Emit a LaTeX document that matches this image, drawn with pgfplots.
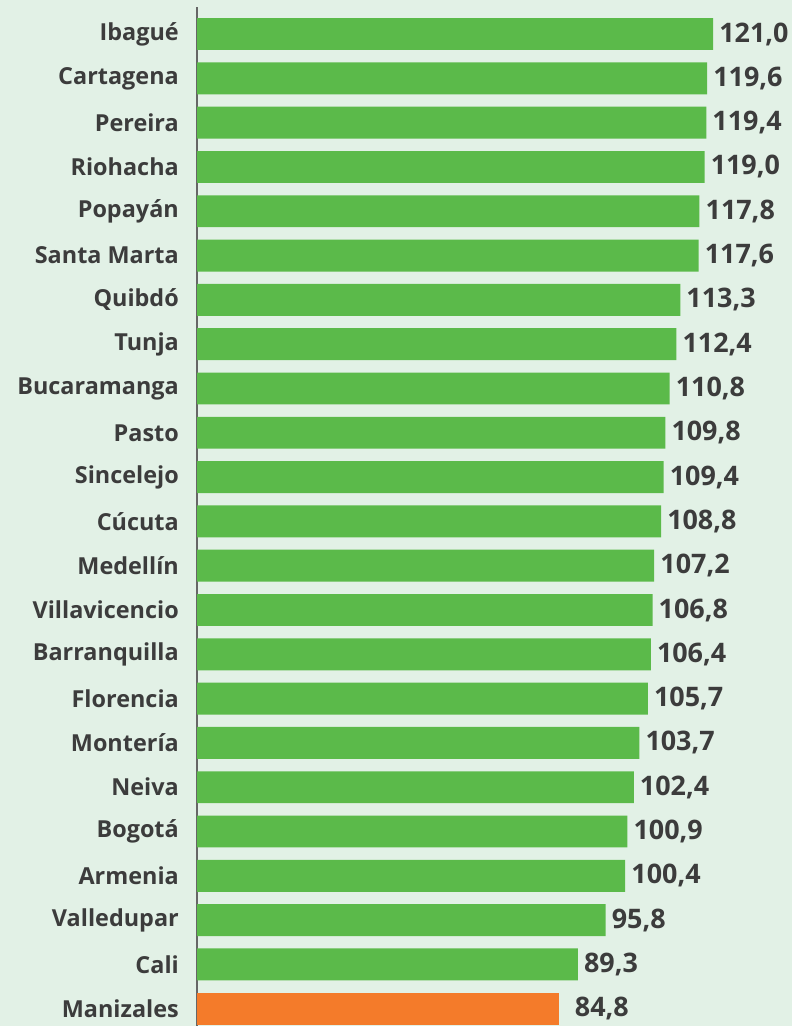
\documentclass[border=0pt]{standalone}
\usepackage{pgfplots}
\pgfplotsset{compat=1.18}
\usepackage{fontspec}
\setmainfont{Open Sans}[BoldFont=* Bold]
\definecolor{bg}{HTML}{E2F1E6}
\definecolor{barg}{HTML}{5BBA4A}
\definecolor{baro}{HTML}{F47B2A}
\definecolor{txt}{HTML}{3C3C3C}
\definecolor{axl}{HTML}{666666}
\begin{document}
\begin{tikzpicture}
\path[use as bounding box, fill=bg] (0bp,0bp) rectangle (792bp,-1026bp);
\begin{axis}[
  at={(197bp,-7bp)}, anchor=north west,
  width=595bp, height=1019bp, scale only axis,
  xmin=0, xmax=139.5,
  ymin=-0.61, ymax=22.39,
  y dir=reverse,
  xbar, bar width=0.72, bar shift=0pt,
  axis x line=none,
  axis y line*=left,
  axis line style={axl, line width=1.5bp, -},
  major tick length=0pt,
  ytick={0,...,22},
  yticklabels={Ibagué,Cartagena,Pereira,Riohacha,Popayán,Santa Marta,Quibdó,Tunja,Bucaramanga,Pasto,Sincelejo,Cúcuta,Medellín,Villavicencio,Barranquilla,Florencia,Montería,Neiva,Bogotá,Armenia,Valledupar,Cali,Manizales},
  yticklabel style={inner sep=0pt, xshift=-18bp, font=\fontsize{23.5}{25}\selectfont\bfseries, text=txt},
  nodes near coords={\pgfmathprintnumber[fixed,fixed zerofill,precision=1,use comma,assume math mode=true]{\pgfplotspointmeta}},
  nodes near coords style={anchor=west, inner sep=0pt, xshift=6bp, font=\fontsize{27}{29}\selectfont\bfseries, text=txt},
  point meta=x,
  clip=false,
]
\addplot[fill=barg, draw=none] coordinates {
(121.0,0) (119.6,1) (119.4,2) (119.0,3) (117.8,4) (117.6,5) (113.3,6) (112.4,7)
(110.8,8) (109.8,9) (109.4,10) (108.8,11) (107.2,12) (106.8,13) (106.4,14) (105.7,15)
(103.7,16) (102.4,17) (100.9,18) (100.4,19) (95.8,20) (89.3,21)
};
\addplot[fill=baro, draw=none, nodes near coords style={xshift=10bp}] coordinates {(84.8,22)};
\end{axis}
\end{tikzpicture}
\end{document}
